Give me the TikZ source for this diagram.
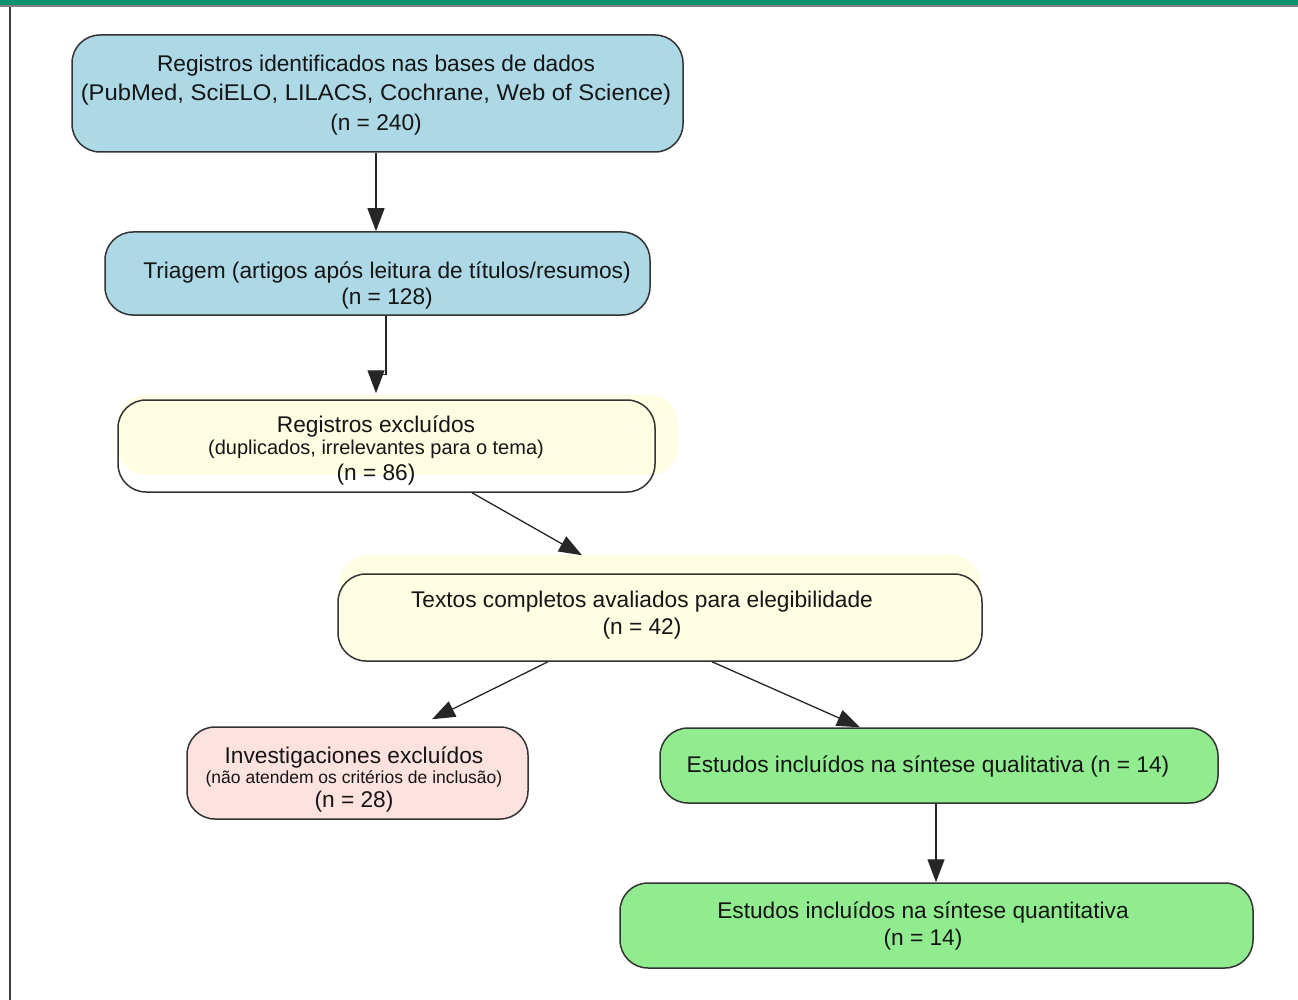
\documentclass[tikz,border=0pt]{standalone}
\usepackage{fontspec}
\setmainfont{Liberation Sans}
\usetikzlibrary{arrows.meta}
\definecolor{topgreen}{HTML}{07936F}
\definecolor{boxblue}{HTML}{ADD8E6}
\definecolor{boxyellow}{HTML}{FFFDE2}
\definecolor{boxpink}{HTML}{FDE2DF}
\definecolor{boxgreen}{HTML}{90EC8E}
\definecolor{edge}{HTML}{333333}
\definecolor{txt}{HTML}{151515}
\tikzset{
  boxshape/.style={draw=edge, line width=1.5pt, rounded corners=28pt, inner sep=0pt},
  lbl/.style={text=txt, align=center, inner sep=0pt, font=\fontsize{22.7}{29}\selectfont},
  arr/.style={draw=black!85, line width=1.3pt, -{Triangle[length=23pt,width=17pt]}}
}
\begin{document}
\begin{tikzpicture}[x=1pt,y=-1pt]
\useasboundingbox (0,0) rectangle (1298,1000);
% frame
\fill[topgreen] (0,0) rectangle (1298,5);
\fill[black!50] (0,5) rectangle (1298,7.5);
\fill[black!75] (8.5,7) rectangle (10.5,1000);
% offset fills
\fill[boxyellow, rounded corners=28pt] (118,395) rectangle (678,475);
\fill[boxyellow, rounded corners=28pt] (340,555) rectangle (980,661);
% boxes
\node[boxshape, fill=boxblue, minimum width=611pt, minimum height=117pt] (b1) at (377.5,93.5) {};
\node[boxshape, fill=boxblue, minimum width=545pt, minimum height=83pt] (b2) at (377.5,273.5) {};
\node[boxshape, minimum width=537pt, minimum height=92pt] (b3) at (386.5,446) {};
\node[boxshape, minimum width=644pt, minimum height=87pt] (b4) at (660,617.5) {};
\node[boxshape, fill=boxpink, minimum width=341pt, minimum height=92pt] (b5) at (357.5,773) {};
\node[boxshape, fill=boxgreen, minimum width=558pt, minimum height=75pt] (b6) at (939,765.5) {};
\node[boxshape, fill=boxgreen, minimum width=633pt, minimum height=85pt] (b7) at (936.5,925.5) {};
% texts
\node[lbl, font=\fontsize{22.7}{29.5}\selectfont] (t1) at (376,95) {Registros identificados nas bases de dados\\\scalebox{1.05}[1]{(PubMed, SciELO, LILACS, Cochrane, Web of Science)}\\(n = 240)};
\node[lbl, font=\fontsize{22.7}{26}\selectfont] (t2) at (387,285) {Triagem (artigos após leitura de títulos/resumos)\\(n = 128)};
\node[lbl] (t3a) at (376,426) {Registros excluídos};
\node[lbl, font=\fontsize{20}{24}\selectfont] (t3b) at (376,449) {(duplicados, irrelevantes para o tema)};
\node[lbl] (t3c) at (376,475) {(n = 86)};
\node[lbl, font=\fontsize{22.7}{27}\selectfont] (t4) at (642,615) {Textos completos avaliados para elegibilidade\\(n = 42)};
\node[lbl] (t5a) at (354,757) {Investigaciones excluídos};
\node[lbl, font=\fontsize{17.5}{20}\selectfont] (t5b) at (354,779) {(não atendem os critérios de inclusão)};
\node[lbl] (t5c) at (354,802) {(n = 28)};
\node[lbl] (t6) at (928,766) {Estudos incluídos na síntese qualitativa (n = 14)};
\node[lbl, font=\fontsize{22.7}{27}\selectfont] (t7) at (923,926) {Estudos incluídos na síntese quantitativa\\(n = 14)};
% connectors
\draw[arr] (b1.south -| 376,0) -- (b2.north -| 376,0);
\draw[arr] ([xshift=8.5pt]b2.south) -- ++(0,59) -- ++(-10,0) -- ([yshift=6pt]b3.north -| 376,0);
\draw[arr] ([xshift=85.5pt]b3.south) -- ([xshift=-78pt,yshift=18pt]b4.north);
\draw[arr] ([xshift=-112pt]b4.south) -- ([xshift=74.5pt,yshift=7pt]b5.north);
\draw[arr] ([xshift=52pt]b4.south) -- ([xshift=-79pt]b6.north);
\draw[arr] (b6.south -| 936,0) -- (b7.north -| 936,0);
\end{tikzpicture}
\end{document}
